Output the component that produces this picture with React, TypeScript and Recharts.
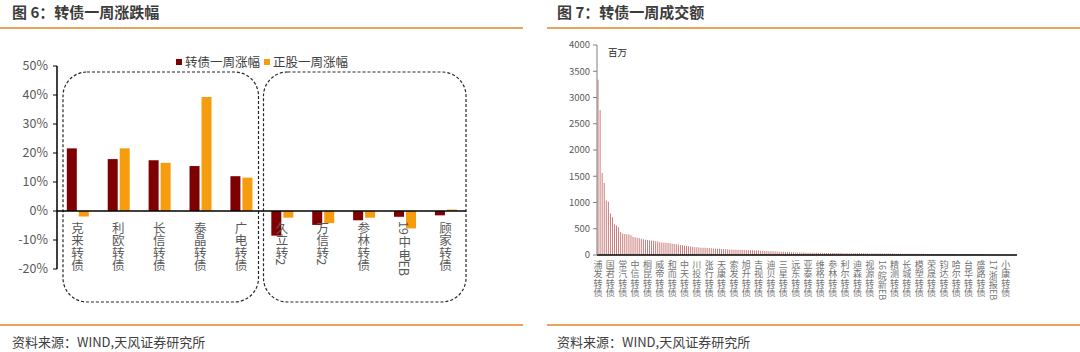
import React from "react"
import { Bar, BarChart, ReferenceArea, ReferenceLine, XAxis, YAxis } from "recharts"

const FONT = '"Noto Sans CJK SC", "Noto Sans", sans-serif'

// 图6：转债一周涨跌幅 (%)
const bondNames = ["克来转债", "利欧转债", "长信转债", "泰晶转债", "广电转债", "久立转2", "万信转2", "参林转债", "19中电EB", "顾家转债"]
const bondChange = [21.6, 17.9, 17.5, 15.5, 12.0, -8.5, -4.8, -3.2, -2.0, -1.5]
const stockChange = [-1.9, 21.6, 16.6, 39.3, 11.5, -2.3, -4.2, -2.3, -6.0, 0.5]
const pctTicks = [-20, -10, 0, 10, 20, 30, 40, 50]

// 图7：转债一周成交额 (百万), one label every 6 bonds
const volumeLabels = [
  "浦发转债", "国君转债", "常汽转债", "中信转债", "桐昆转债", "威帝转债", "和而转债", "中天转债", "川投转债",
  "张行转债", "天康转债", "索发转债", "旭升转债", "吉视转债", "迪贝转债", "三星转债", "远东转债", "亚泰转债",
  "维格转债", "参林转债", "利尔转债", "迪森转债", "视源转债", "16皖新EB", "精测转债", "长城转债", "模塑转债",
  "荣晟转债", "钧达转债", "哈尔转债", "台华转债", "盛路转债", "17浙报EB", "小康转债",
]
const volumes = [
  3340, 2760, 1560, 1370, 1040, 1015,
  790, 720, 580, 560, 530, 440,
  410, 400, 395, 390, 375, 350,
  340, 330, 320, 310, 300, 290,
  285, 280, 275, 270, 262, 255,
  245, 240, 235, 232, 228, 225,
  215, 210, 205, 200, 192, 185,
  178, 172, 166, 160, 155, 150,
  146, 143, 140, 138, 136, 135,
  133, 130, 126, 122, 119, 117,
  115, 112, 110, 108, 106, 104,
  102, 101, 100, 99, 98, 97,
  96, 94, 92, 90, 88, 86,
  84, 82, 80, 78, 76, 73,
  71, 70, 68, 66, 64, 62,
  60, 58, 57, 55, 54, 52,
  50, 49, 48, 47, 46, 45,
  44, 43, 43, 42, 42, 41,
  41, 40, 40, 39, 39, 38,
  38, 37, 37, 36, 36, 35,
  35, 35, 34, 34, 33, 33,
  33, 32, 32, 31, 31, 31,
  30, 30, 30, 29, 29, 29,
  28, 28, 28, 27, 27, 27,
  26, 26, 26, 25, 25, 25,
  24, 24, 24, 23, 23, 23,
  22, 22, 22, 21, 21, 21,
  20, 20, 20, 19, 19, 19,
  18, 18, 18, 17, 17, 17,
  16, 16, 16, 15, 15, 15,
  14, 14, 14, 13, 13, 13,
  12, 12, 11, 8, 6, 5,
  4, 4, 3, 3, 3, 2,
  2, 2, 2, 1, 1, 1,
]
const volumeTicks = [0, 500, 1000, 1500, 2000, 2500, 3000, 3500, 4000]

const changeData = bondNames.map((name, i) => ({ name, bond: bondChange[i], stock: stockChange[i] }))
const volumeData = volumes.map((v, i) => ({ name: i % 6 === 0 ? volumeLabels[i / 6] : "", v }))

// stacked vertical label, latin/digit runs turned sideways like Excel
// dy: distance from the tick anchor recharts hands over to the first glyph
function VerticalTick(props: any) {
  const { x, y, payload, dy, pitch, fontSize, color } = props
  const text: string = payload.value || ""
  const runs: { t: string; rot: boolean }[] = []
  let buf = ""
  for (const ch of text) {
    if (/[A-Za-z0-9]/.test(ch)) buf += ch
    else {
      if (buf) runs.push({ t: buf, rot: true })
      buf = ""
      runs.push({ t: ch, rot: false })
    }
  }
  if (buf) runs.push({ t: buf, rot: true })
  let cy = y + dy
  const out: any[] = []
  runs.forEach((r, i) => {
    if (r.rot) {
      out.push(
        <text key={i} transform={`translate(${x},${cy}) rotate(90)`} x={0} y={0} dominantBaseline="central" textAnchor="start">
          {r.t}
        </text>
      )
      cy += r.t.length * fontSize * 0.58
    } else {
      out.push(
        <text key={i} x={x} y={cy + pitch / 2} textAnchor="middle" dominantBaseline="central">
          {r.t}
        </text>
      )
      cy += pitch
    }
  })
  return (
    <g fill={color} fontSize={fontSize} fontFamily={FONT}>
      {out}
    </g>
  )
}

function dashedBox(padL: number, padR: number, padT: number, padB: number) {
  return (p: any) => (
    <rect
      x={p.x + padL}
      y={p.y + padT}
      width={p.width - padL - padR}
      height={p.height - padT + padB}
      rx={24}
      ry={24}
      fill="none"
      stroke="#262626"
      strokeWidth={1.2}
      strokeDasharray="3 2"
    />
  )
}

function ChangeLegend() {
  const item = (color: string, label: string) => (
    <span style={{ display: "inline-flex", alignItems: "center", marginRight: 4 }}>
      <span style={{ width: 6, height: 6, background: color, marginRight: 3 }} />
      <span>{label}</span>
    </span>
  )
  return (
    <div style={{ position: "absolute", left: 176, top: 51, lineHeight: "18px", fontSize: 12.5, color: "#404040", whiteSpace: "nowrap" }}>
      {item("#7f0000", "转债一周涨幅")}
      {item("#f59d0e", "正股一周涨幅")}
    </div>
  )
}

export default function App() {
  const abs = (s: React.CSSProperties): React.CSSProperties => ({ position: "absolute", ...s })
  return (
    <div style={{ position: "relative", width: 1080, height: 352, background: "#fff", overflow: "hidden", fontFamily: FONT }}>
      <style>{"body{margin:0}"}</style>

      <div style={abs({ left: 12, top: 2, lineHeight: "20px", fontSize: 15, fontWeight: 700, color: "#3c3c3c" })}>图 6：转债一周涨跌幅</div>
      <div style={abs({ left: 557, top: 2, lineHeight: "20px", fontSize: 15, fontWeight: 700, color: "#3c3c3c" })}>图 7：转债一周成交额</div>
      <div style={abs({ left: 0, top: 27, width: 523, height: 2, background: "#e9a560" })} />
      <div style={abs({ left: 547, top: 27, width: 533, height: 2, background: "#e9a560" })} />
      <div style={abs({ left: 0, top: 324, width: 523, height: 2, background: "#e9a560" })} />
      <div style={abs({ left: 547, top: 324, width: 533, height: 2, background: "#e9a560" })} />
      <div style={abs({ left: 12, top: 333, lineHeight: "18px", fontSize: 13, color: "#404040" })}>资料来源：WIND,天风证券研究所</div>
      <div style={abs({ left: 557, top: 333, lineHeight: "18px", fontSize: 13, color: "#404040" })}>资料来源：WIND,天风证券研究所</div>

      <div style={abs({ left: 0, top: 0, width: 530, height: 310 })}>
        <BarChart
          width={530}
          height={310}
          data={changeData}
          margin={{ top: 66, right: 64, bottom: 11, left: 7 }}
          barCategoryGap="24%"
          barGap={2}
        >
          <ReferenceArea x1="克来转债" x2="广电转债" y1={-20} y2={50} shape={dashedBox(6, 3, 6, 33)} />
          <ReferenceArea x1="久立转2" x2="顾家转债" y1={-20} y2={50} shape={dashedBox(2, 0, 6, 33)} />
          <XAxis
            dataKey="name"
            height={30}
            axisLine={false}
            tickLine={false}
            tickSize={0}
            tickMargin={0}
            interval={0}
            tick={(p: any) => <VerticalTick {...p} dy={-48} pitch={12.5} fontSize={12.5} color="#595959" />}
          />
          <YAxis
            width={50}
            domain={[-20, 50]}
            ticks={pctTicks}
            tickFormatter={(v) => `${v}%`}
            tick={{ fill: "#595959", fontSize: 12.5, fontFamily: FONT }}
            axisLine={{ stroke: "#000", strokeWidth: 1.5 }}
            tickLine={{ stroke: "#000" }}
            tickSize={4}
            tickMargin={5}
          />
          <ReferenceLine y={0} stroke="#000" strokeWidth={1.5} />
          <Bar dataKey="bond" fill="#7f0000" isAnimationActive={false} />
          <Bar dataKey="stock" fill="#f59d0e" isAnimationActive={false} />
        </BarChart>
      </div>
      <ChangeLegend />

      <div style={abs({ left: 540, top: 0, width: 540, height: 310 })}>
        <BarChart
          width={540}
          height={310}
          data={volumeData}
          margin={{ top: 45, right: 63, bottom: 5, left: 12 }}
          barCategoryGap="30%"
        >
          <XAxis
            dataKey="name"
            height={50}
            axisLine={{ stroke: "#000", strokeWidth: 1.5 }}
            tickLine={false}
            tickSize={0}
            tickMargin={0}
            interval={5}
            tick={(p: any) => <VerticalTick {...p} dy={5} pitch={9.3} fontSize={9} color="#737373" />}
          />
          <YAxis
            width={45}
            domain={[0, 4000]}
            ticks={volumeTicks}
            tick={{ fill: "#595959", fontSize: 9.5, fontFamily: FONT }}
            axisLine={{ stroke: "#7f7f7f" }}
            tickLine={{ stroke: "#7f7f7f" }}
            tickSize={4}
            tickMargin={3}
          />
          <Bar dataKey="v" fill="#c06262" isAnimationActive={false} />
        </BarChart>
      </div>
      <div style={abs({ left: 608, top: 45, lineHeight: "14px", fontSize: 9.5, color: "#262626" })}>百万</div>
    </div>
  )
}
